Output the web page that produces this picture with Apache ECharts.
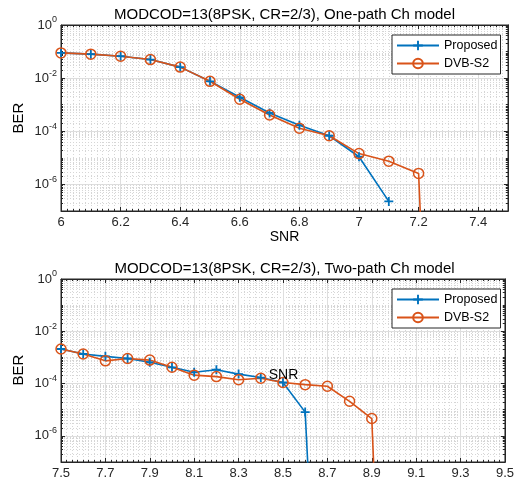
<!DOCTYPE html>
<html>
<head>
<meta charset="utf-8">
<script src="https://cdn.jsdelivr.net/npm/echarts@6/dist/echarts.min.js"></script>
<style>
  html, body { margin: 0; padding: 0; background: #fff; }
  #chart { width: 517px; height: 487px; }
</style>
</head>
<body>
<div id="chart"></div>
<script>
// One-path channel
const snrOne = [6.0, 6.1, 6.2, 6.3, 6.4, 6.5, 6.6, 6.7, 6.8, 6.9, 7.0, 7.1, 7.2, 7.3];
const proposedOne = [0.089, 0.080, 0.067, 0.050, 0.026, 0.0076, 0.0019, 4.9e-4, 1.7e-4, 6.8e-5, 1.1e-5, 2.3e-7];
const dvbOne = [0.089, 0.080, 0.067, 0.050, 0.026, 0.0076, 0.0016, 4.1e-4, 1.3e-4, 6.8e-5, 1.45e-5, 7.5e-6, 2.6e-6, 1e-32];

// Two-path channel
const snrTwo = [7.5, 7.6, 7.7, 7.8, 7.9, 8.0, 8.1, 8.2, 8.3, 8.4, 8.5, 8.6, 8.7, 8.8, 8.9, 9.0];
const proposedTwo = [2.1e-3, 1.35e-3, 1.1e-3, 9.1e-4, 6.5e-4, 4.2e-4, 2.7e-4, 3.4e-4, 2.3e-4, 1.7e-4, 1.1e-4, 8.1e-6, 1e-22];
const dvbTwo = [2.1e-3, 1.35e-3, 7.4e-4, 9.1e-4, 7.9e-4, 4.2e-4, 2.1e-4, 1.85e-4, 1.4e-4, 1.6e-4, 1.1e-4, 9.1e-5, 7.9e-5, 2.1e-5, 4.6e-6, 1e-26];

const berTicks = [1e-6, 1e-4, 1e-2, 1];
const xTicksOne = [6, 7.5, 0.2];
const xTicksTwo = [7.5, 9.5, 0.2];
const titles = ['MODCOD=13(8PSK, CR=2/3), One-path Ch model', 'MODCOD=13(8PSK, CR=2/3), Two-path Ch model'];

const FONT = '"Liberation Sans", Arial, sans-serif';
const BLUE = '#0072BD';
const ORANGE = '#D95319';
const INK = '#262626';

// minor positions 2..9 x 10^k (and non-labelled decades)
const berMinor = [];
for (let e = -7; e <= -1; e++) {
    for (let k = 1; k <= 9; k++) {
        const v = +(k * Math.pow(10, e)).toPrecision(3);
        if (!berTicks.includes(v)) berMinor.push(v);
    }
}

const pairs = (xs, ys) => ys.map((y, i) => [xs[i], y]);

const grids = [
    { left: 61, right: 9, top: 25, height: 186, show: true, borderColor: INK, borderWidth: 1, backgroundColor: '#fff' },
    { left: 61, right: 9, top: 279, height: 183, show: true, borderColor: INK, borderWidth: 1, backgroundColor: '#fff' }
];

let xAxes = [];
let yAxes = [];

const addX = (g, ticks, minorN, hideMax) => {
    xAxes.push({
        type: 'value', gridIndex: g, min: ticks[0], max: ticks[1], interval: ticks[2],
        axisLine: { show: true, lineStyle: { color: INK } },
        axisTick: { inside: true, length: 4, lineStyle: { color: INK } },
        minorTick: { show: true, splitNumber: minorN, length: 2, lineStyle: { color: INK } },
        splitLine: { show: true, lineStyle: { color: '#dedede', width: 1 } },
        minorSplitLine: { show: true, lineStyle: { color: '#d6d6d6', type: [1, 2], width: 1 } },
        axisLabel: { margin: 5, fontSize: 13, color: INK, fontFamily: FONT, showMaxLabel: !hideMax, showMinLabel: true }
    });
    xAxes.push({
        type: 'value', gridIndex: g, position: 'top', min: ticks[0], max: ticks[1], interval: ticks[2],
        axisLine: { show: true, lineStyle: { color: INK } },
        axisTick: { inside: true, length: 4, lineStyle: { color: INK } },
        minorTick: { show: true, splitNumber: minorN, length: 2, lineStyle: { color: INK } },
        splitLine: { show: false },
        axisLabel: { show: false }
    });
};

const addY = (g) => {
    const base = { type: 'log', gridIndex: g, min: 1e-7, max: 1 };
    yAxes.push(Object.assign({}, base, {
        position: 'left',
        axisLine: { show: false },
        axisTick: { show: true, inside: true, length: 2, customValues: berMinor, lineStyle: { color: INK } },
        axisLabel: { show: false },
        splitLine: { show: true, lineStyle: { color: '#d6d6d6', type: [1, 2], width: 1 } }
    }));
    yAxes.push(Object.assign({}, base, {
        position: 'left',
        axisLine: { show: true, lineStyle: { color: INK } },
        axisTick: { show: true, inside: true, length: 4, customValues: berTicks, lineStyle: { color: INK } },
        axisLabel: {
            customValues: berTicks, margin: 4, color: INK, fontFamily: FONT,
            formatter: v => '{b|10}{s|' + Math.round(Math.log10(v)) + '}',
            rich: {
                b: { fontSize: 13, fontFamily: FONT, color: INK },
                s: { fontSize: 9, fontFamily: FONT, color: INK, padding: [0, 0, 10, 0] }
            }
        },
        splitLine: { show: true, lineStyle: { color: '#dedede', width: 1 } }
    }));
    yAxes.push(Object.assign({}, base, {
        position: 'right',
        axisLine: { show: true, lineStyle: { color: INK } },
        axisTick: { show: true, inside: true, length: 2, customValues: berMinor, lineStyle: { color: INK } },
        axisLabel: { show: false }, splitLine: { show: false }
    }));
    yAxes.push(Object.assign({}, base, {
        position: 'right',
        axisLine: { show: true, lineStyle: { color: INK } },
        axisTick: { show: true, inside: true, length: 4, customValues: berTicks, lineStyle: { color: INK } },
        axisLabel: { show: false }, splitLine: { show: false }
    }));
};

addX(0, xTicksOne, 10, true);
addX(1, xTicksTwo, 8, false);
addY(0);
addY(1);

const plusSymbol = 'path://M4,0H6V4H10V6H6V10H4V6H0V4H4Z';

const makeSeries = (name, data, g) => {
    const isProp = name === 'Proposed';
    return {
        name: name, type: 'line', data: data,
        xAxisIndex: g * 2, yAxisIndex: g * 4 + 1,
        symbol: isProp ? plusSymbol : 'circle',
        symbolSize: isProp ? 9 : 10,
        showAllSymbol: true,
        clip: true,
        lineStyle: { color: isProp ? BLUE : ORANGE, width: 1.6 },
        itemStyle: isProp
            ? { color: BLUE }
            : { color: 'rgba(255,255,255,0)', borderColor: ORANGE, borderWidth: 1.5 },
        emphasis: { disabled: true }
    };
};

const series = [
    makeSeries('Proposed', pairs(snrOne, proposedOne), 0),
    makeSeries('DVB-S2', pairs(snrOne, dvbOne), 0),
    makeSeries('Proposed', pairs(snrTwo, proposedTwo), 1),
    makeSeries('DVB-S2', pairs(snrTwo, dvbTwo), 1)
];

const legendBase = {
    orient: 'vertical', left: 392,
    padding: [4, 3, 4, 4], itemGap: 5, itemWidth: 42, itemHeight: 12,
    borderColor: INK, borderWidth: 1, backgroundColor: '#fff',
    textStyle: { fontSize: 12.5, color: '#000', fontFamily: FONT },
    data: ['Proposed', 'DVB-S2'], selectedMode: false
};

const textEl = (text, x, y, size, rot) => ({
    type: 'text', x: x, y: y, rotation: rot || 0, z: 100,
    style: { text: text, fontSize: size, fontFamily: FONT, fill: '#000', align: 'center', verticalAlign: 'middle' }
});

const chart = echarts.init(document.getElementById('chart'), null, { renderer: 'canvas' });
chart.setOption({
    animation: false,
    backgroundColor: '#fff',
    grid: grids,
    xAxis: xAxes,
    yAxis: yAxes,
    legend: [
        Object.assign({}, legendBase, { top: 35 }),
        Object.assign({}, legendBase, { top: 289 })
    ],
    series: series,
    graphic: [
        textEl(titles[0], 284.5, 14.5, 15),
        textEl(titles[1], 284.5, 268.5, 15),
        textEl('SNR', 284.5, 237, 14),
        textEl('SNR', 283.5, 375, 14),
        textEl('BER', 19, 118, 15, Math.PI / 2),
        textEl('BER', 19, 370, 15, Math.PI / 2)
    ]
});
</script>
</body>
</html>
